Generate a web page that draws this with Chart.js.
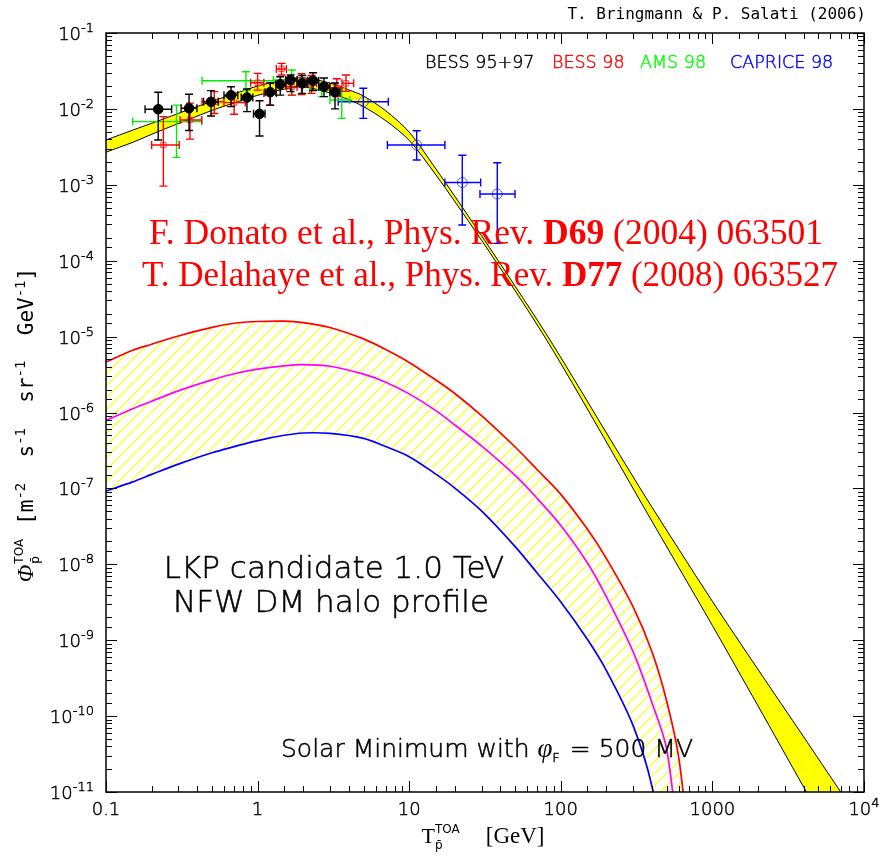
<!DOCTYPE html>
<html>
<head>
<meta charset="utf-8">
<title>Antiproton flux - LKP 1.0 TeV</title>
<script src="https://cdn.jsdelivr.net/npm/chart.js@4.4.1/dist/chart.umd.min.js"></script>
<style>
  html, body { margin: 0; padding: 0; background: #fff; }
  #wrap { width: 881px; height: 857px; }
</style>
</head>
<body>
<div id="wrap"><canvas id="fluxChart" width="881" height="857"></canvas></div>
<script>
// Secondary background band (kinetic energy in GeV, flux in m^-2 s^-1 sr^-1 GeV^-1)
const bandEnergy = [0.1, 0.15, 0.22, 0.35, 0.5, 0.7, 1, 1.5, 2, 3, 4, 5, 7, 10, 15, 20, 30, 50, 80, 120, 200, 350, 600, 1000, 2000, 4000, 7000, 10000];
const bandUpper = [3.89e-3, 5.25e-3, 6.92e-3, 9.77e-3, 1.26e-2, 1.58e-2, 2.00e-2, 2.40e-2, 2.57e-2, 2.19e-2, 1.78e-2, 1.48e-2, 9.44e-3, 4.95e-3, 1.62e-3, 7.06e-4, 2.14e-4, 4.61e-5, 1.09e-5, 2.92e-6, 5.38e-7, 8.61e-8, 1.58e-8, 3.25e-9, 4.11e-10, 5.32e-11, 1.01e-11, 3.56e-12];
const bandLower = [2.69e-3, 3.63e-3, 5.01e-3, 7.24e-3, 9.55e-3, 1.20e-2, 1.51e-2, 1.82e-2, 1.95e-2, 1.62e-2, 1.32e-2, 1.07e-2, 7.00e-3, 3.85e-3, 1.35e-3, 6.01e-4, 1.86e-4, 4.02e-5, 9.27e-6, 2.38e-6, 4.08e-7, 5.82e-8, 9.08e-9, 1.56e-9, 1.36e-10, 1.16e-11, 1.61e-12, 4.49e-13];

// LKP signal curves (max / median / min propagation)
const lkpEnergy = [0.1, 0.15, 0.2, 0.3, 0.5, 0.7, 1, 1.5, 2, 3, 5, 7, 10, 15, 20, 30, 50, 70, 100, 150, 200, 300, 400, 500, 600, 700];
const lkpMax = [4.62e-6, 6.61e-6, 7.94e-6, 1.02e-5, 1.32e-5, 1.50e-5, 1.58e-5, 1.60e-5, 1.53e-5, 1.32e-5, 9.33e-6, 6.76e-6, 4.57e-6, 2.68e-6, 1.78e-6, 9.10e-7, 3.51e-7, 1.76e-7, 8.35e-8, 2.89e-8, 1.19e-8, 2.75e-9, 6.98e-10, 1.56e-10, 2.84e-11, 1.9e-12];
const lkpMed = [7.85e-7, 1.12e-6, 1.41e-6, 1.93e-6, 2.69e-6, 3.24e-6, 3.72e-6, 4.12e-6, 4.27e-6, 4.07e-6, 3.20e-6, 2.51e-6, 1.76e-6, 1.06e-6, 6.84e-7, 3.63e-7, 1.48e-7, 7.35e-8, 3.25e-8, 1.04e-8, 3.71e-9, 7.0e-10, 1.49e-10, 3.63e-11, 1.8e-12, 1e-13];
const lkpMin = [9.23e-8, 1.22e-7, 1.53e-7, 2.09e-7, 2.95e-7, 3.55e-7, 4.27e-7, 5.01e-7, 5.37e-7, 5.30e-7, 4.57e-7, 3.56e-7, 2.62e-7, 1.54e-7, 1.01e-7, 5.05e-8, 1.71e-8, 7.64e-9, 3.18e-9, 1.02e-9, 3.98e-10, 7.48e-11, 1.17e-11, 8.5e-13, 1e-14, 1e-16];

// BESS 95+97
const bessE = [0.221, 0.353, 0.493, 0.668, 0.851, 1.03, 1.21, 1.41, 1.65, 1.97, 2.32, 2.74, 3.24];
const bessFlux = [9.9e-3, 1.02e-2, 1.24e-2, 1.51e-2, 1.41e-2, 8.6e-3, 1.66e-2, 2.11e-2, 2.40e-2, 2.17e-2, 2.35e-2, 1.96e-2, 1.66e-2];
const bessLo = [3.9e-3, 5.2e-3, 8.05e-3, 1.07e-2, 9.2e-3, 4.4e-3, 1.12e-2, 1.52e-2, 1.69e-2, 1.6e-2, 1.75e-2, 1.45e-2, 1.0e-2];
const bessHi = [1.66e-2, 1.56e-2, 1.74e-2, 1.96e-2, 1.83e-2, 1.28e-2, 2.19e-2, 2.65e-2, 2.8e-2, 2.75e-2, 3.0e-2, 2.55e-2, 2.19e-2];
const bessEmin = [0.181, 0.313, 0.44, 0.6, 0.78, 0.94, 1.12, 1.32, 1.53, 1.82, 2.14, 2.53, 3.0];
const bessEmax = [0.271, 0.398, 0.55, 0.74, 0.93, 1.12, 1.32, 1.53, 1.82, 2.14, 2.53, 3.0, 3.5];

// BESS 98
const bess98E = [0.239, 0.358, 0.518, 0.70, 1.0, 1.21, 1.44, 1.68, 1.95, 2.27, 3.33, 3.83];
const bess98Flux = [3.34e-3, 7.15e-3, 1.24e-2, 1.21e-2, 2.21e-2, 1.61e-2, 3.36e-2, 1.96e-2, 2.24e-2, 2.17e-2, 1.90e-2, 2.17e-2];
const bess98Lo = [9.6e-4, 4.0e-3, 8.7e-3, 8.5e-3, 1.77e-2, 1.12e-2, 2.8e-2, 1.52e-2, 1.55e-2, 1.6e-2, 1.45e-2, 1.7e-2];
const bess98Hi = [7.9e-3, 1.19e-2, 1.69e-2, 1.61e-2, 2.94e-2, 2.17e-2, 3.98e-2, 2.55e-2, 2.9e-2, 2.75e-2, 2.5e-2, 2.8e-2];
const bess98Emin = [0.2, 0.308, 0.43, 0.6, 0.9, 1.1, 1.33, 1.55, 1.82, 2.1, 3.0, 3.6];
const bess98Emax = [0.304, 0.428, 0.6, 0.83, 1.1, 1.33, 1.55, 1.82, 2.1, 2.45, 3.6, 4.3];

// AMS 98
const amsE = [0.292, 0.838, 1.68, 2.65, 3.59];
const amsFlux = [6.8e-3, 2.35e-2, 2.4e-2, 1.77e-2, 1.31e-2];
const amsLo = [2.3e-3, 1.75e-2, 1.52e-2, 1.45e-2, 7.5e-3];
const amsHi = [1.12e-2, 3.09e-2, 3.26e-2, 2.17e-2, 1.87e-2];
const amsEmin = [0.15, 0.43, 1.27, 2.2, 3.0];
const amsEmax = [0.428, 1.27, 2.22, 3.2, 4.06];

// CAPRICE 98
const capriceE = [4.98, 11.2, 22.4, 38.1];
const capriceFlux = [1.24e-2, 3.34e-3, 1.07e-3, 7.57e-4];
const capriceLo = [7.5e-3, 2.12e-3, 2.95e-4, 1.69e-4];
const capriceHi = [1.87e-2, 5.16e-3, 2.45e-3, 1.95e-3];
const capriceEmin = [3.4, 7.18, 17.2, 29.3];
const capriceEmax = [7.28, 17.2, 29.6, 49.9];

// Axis labels
const xTickValues = [0.1, 1, 10, 100, 1000, 10000];
const xTickLabels = ['0.1', '1', '10', '100', '1000', '10^4'];
const yTickValues = [1e-11, 1e-10, 1e-9, 1e-8, 1e-7, 1e-6, 1e-5, 1e-4, 1e-3, 1e-2, 1e-1];
const yTickLabels = ['10^-11', '10^-10', '10^-9', '10^-8', '10^-7', '10^-6', '10^-5', '10^-4', '10^-3', '10^-2', '10^-1'];

// thin face of DejaVu Sans, thickened a little with an outline
const SANS = '"DejaVu Sans", sans-serif';
const LIGHT = '200 ';
const MONO = '"DejaVu Sans Mono", monospace';
const SERIF = '"Liberation Serif", "DejaVu Serif", serif';
const MAJOR_TICK = 11, MINOR_TICK = 6;

function pts(xs, ys) {
    return xs.map((x, i) => ({ x: x, y: ys[i] }));
}

function isDecade(v) {
    const l = Math.log10(v);
    return Math.abs(l - Math.round(l)) < 1e-6;
}

// diagonal yellow hatching between the LKP curves
function makeHatch(ctx) {
    const s = 12;
    const c = document.createElement('canvas');
    c.width = s; c.height = s;
    const g = c.getContext('2d');
    g.strokeStyle = '#ffff00';
    g.lineWidth = 1.1;
    g.beginPath();
    g.moveTo(0, s); g.lineTo(s, 0);
    g.moveTo(-2, 2); g.lineTo(2, -2);
    g.moveTo(s - 2, s + 2); g.lineTo(s + 2, s - 2);
    g.stroke();
    return ctx.createPattern(c, 'repeat');
}

// text made of runs: plain pieces, raised/lowered pieces, stacked sup/sub pairs
function measureRuns(ctx, runs) {
    let w = 0;
    runs.forEach(r => {
        ctx.font = r.font;
        if (r.sup !== undefined) {
            r.w = Math.max(ctx.measureText(r.sup).width, ctx.measureText(r.sub).width);
        } else {
            r.w = ctx.measureText(r.t).width;
        }
        w += r.w + (r.gap || 0);
    });
    return w;
}

function drawRuns(ctx, runs, x, y, align, color) {
    const w = measureRuns(ctx, runs);
    let cx = align === 'right' ? x - w : align === 'center' ? x - w / 2 : x;
    ctx.textAlign = 'left';
    ctx.textBaseline = 'alphabetic';
    ctx.lineJoin = 'round';
    runs.forEach(r => {
        ctx.font = r.font;
        ctx.fillStyle = ctx.strokeStyle = r.color || color || '#000';
        ctx.lineWidth = r.stroke || 0;
        const put = (t, dy) => {
            ctx.fillText(t, cx, y + dy);
            if (r.stroke) ctx.strokeText(t, cx, y + dy);
        };
        if (r.sup !== undefined) {
            put(r.sup, r.supDy);
            put(r.sub, r.subDy);
        } else {
            put(r.t, r.dy || 0);
        }
        cx += r.w + (r.gap || 0);
    });
}

function light(t, size, extra) {
    return Object.assign({ t: t, font: LIGHT + size + 'px ' + SANS, stroke: size > 20 ? 0.5 : 0.45 }, extra || {});
}

function powerRuns(label, size) {
    const parts = label.split('^');
    const runs = [light(parts[0], size)];
    if (parts[1]) runs.push(light(parts[1], Math.round(size * 0.72), { dy: -8 }));
    return runs;
}

const axesAndText = {
    id: 'axesAndText',
    afterDraw(chart) {
        const { ctx, chartArea: a, scales: { x, y } } = chart;
        ctx.save();

        // frame and inward ticks on all four sides
        ctx.strokeStyle = '#000';
        ctx.lineWidth = 1.5;
        ctx.strokeRect(a.left, a.top, a.right - a.left, a.bottom - a.top);
        ctx.lineWidth = 1;
        ctx.beginPath();
        x.ticks.forEach(t => {
            const px = Math.round(x.getPixelForValue(t.value)) + 0.5;
            const len = isDecade(t.value) ? MAJOR_TICK : MINOR_TICK;
            ctx.moveTo(px, a.bottom); ctx.lineTo(px, a.bottom - len);
            ctx.moveTo(px, a.top); ctx.lineTo(px, a.top + len);
        });
        y.ticks.forEach(t => {
            const py = Math.round(y.getPixelForValue(t.value)) + 0.5;
            const len = isDecade(t.value) ? MAJOR_TICK : MINOR_TICK;
            ctx.moveTo(a.left, py); ctx.lineTo(a.left + len, py);
            ctx.moveTo(a.right, py); ctx.lineTo(a.right - len, py);
        });
        ctx.stroke();

        // tick labels
        xTickValues.forEach((v, i) => {
            drawRuns(ctx, powerRuns(xTickLabels[i], 18), x.getPixelForValue(v), a.bottom + 23, 'center');
        });
        yTickValues.forEach((v, i) => {
            drawRuns(ctx, powerRuns(yTickLabels[i], 18), a.left - 12, y.getPixelForValue(v) + 7, 'right');
        });

        // axis titles
        drawRuns(ctx, [
            { t: 'T', font: '22px ' + SERIF },
            { sup: 'TOA', sub: 'p\u0304', font: '12px ' + SANS, supDy: -10, subDy: 6, gap: 26 },
            { t: '[GeV]', font: '23px ' + SERIF }
        ], 483, 843, 'center');

        ctx.save();
        ctx.translate(26, 425);
        ctx.rotate(-Math.PI / 2);
        drawRuns(ctx, [
            { t: '\u03A6', font: 'italic 23px ' + SERIF, gap: 1 },
            { sup: 'TOA', sub: 'p\u0304', font: '12px ' + SANS, supDy: -10, subDy: 6, gap: 14 },
            { t: '[m', font: '21px ' + MONO },
            { t: '-2', font: '14px ' + MONO, dy: -8 },
            { t: '  s', font: '21px ' + MONO },
            { t: '-1', font: '14px ' + MONO, dy: -8 },
            { t: '  sr', font: '21px ' + MONO },
            { t: '-1', font: '14px ' + MONO, dy: -8 },
            { t: '  GeV', font: '21px ' + MONO },
            { t: '-1', font: '14px ' + MONO, dy: -8 },
            { t: ']', font: '21px ' + MONO }
        ], 0, 7, 'center');
        ctx.restore();

        // credits and experiment legend
        drawRuns(ctx, [{ t: 'T. Bringmann & P. Salati (2006)', font: '16px ' + MONO }], 866, 19, 'right');
        drawRuns(ctx, [light('BESS 95+97', 17.5)], 425, 68, 'left', '#000');
        drawRuns(ctx, [light('BESS 98', 17.5)], 552, 68, 'left', '#ff0000');
        drawRuns(ctx, [light('AMS 98', 17.5)], 640, 68, 'left', '#00ff00');
        drawRuns(ctx, [light('CAPRICE 98', 17.5)], 730, 68, 'left', '#0000ff');

        // references for the background band
        drawRuns(ctx, [
            { t: 'F. Donato et al., Phys. Rev. ', font: '35.5px ' + SERIF },
            { t: 'D69', font: 'bold 35.5px ' + SERIF },
            { t: ' (2004) 063501', font: '35.5px ' + SERIF }
        ], 486, 244, 'center', '#ff0000');
        drawRuns(ctx, [
            { t: 'T. Delahaye et al., Phys. Rev. ', font: '35px ' + SERIF },
            { t: 'D77', font: 'bold 35px ' + SERIF },
            { t: ' (2008) 063527', font: '35px ' + SERIF }
        ], 490, 286, 'center', '#ff0000');

        // model annotations
        drawRuns(ctx, [light('LKP candidate 1.0 TeV', 31)], 334, 578, 'center');
        drawRuns(ctx, [light('NFW DM halo profile', 31)], 331, 612, 'center');
        drawRuns(ctx, [
            light('Solar Minimum with ', 25),
            { t: '\u03C6', font: 'italic 27px ' + SERIF },
            light('F', 13, { dy: 5, gap: 2 }),
            light(' = 500 MV', 25)
        ], 487, 757, 'center');

        ctx.restore();
    }
};

// error bars with end caps, drawn right after each data set
const errorBars = {
    id: 'errorBars',
    afterDatasetDraw(chart, args) {
        const ds = chart.data.datasets[args.index];
        if (!ds.err) return;
        const { ctx, chartArea: a, scales: { x, y } } = chart;
        const e = ds.err, cap = 4;
        ctx.save();
        ctx.beginPath();
        ctx.rect(a.left, a.top, a.right - a.left, a.bottom - a.top);
        ctx.clip();
        ctx.strokeStyle = ds.barColor;
        ctx.lineWidth = 1.4;
        ctx.beginPath();
        ds.data.forEach((p, i) => {
            const px = x.getPixelForValue(p.x), py = y.getPixelForValue(p.y);
            const y0 = y.getPixelForValue(e.lo[i]), y1 = y.getPixelForValue(e.hi[i]);
            const x0 = x.getPixelForValue(e.xmin[i]), x1 = x.getPixelForValue(e.xmax[i]);
            ctx.moveTo(px, y0); ctx.lineTo(px, y1);
            ctx.moveTo(px - cap, y0); ctx.lineTo(px + cap, y0);
            ctx.moveTo(px - cap, y1); ctx.lineTo(px + cap, y1);
            ctx.moveTo(x0, py); ctx.lineTo(x1, py);
            ctx.moveTo(x0, py - cap); ctx.lineTo(x0, py + cap);
            ctx.moveTo(x1, py - cap); ctx.lineTo(x1, py + cap);
        });
        ctx.stroke();
        ctx.restore();
    }
};

const canvas = document.getElementById('fluxChart');
const ctx = canvas.getContext('2d');

const curve = {
    showLine: true, pointRadius: 0,
    tension: 0.3, capBezierPoints: false
};

new Chart(ctx, {
    type: 'scatter',
    data: {
        datasets: [
            {
                label: 'BESS 95+97',
                data: pts(bessE, bessFlux),
                err: { lo: bessLo, hi: bessHi, xmin: bessEmin, xmax: bessEmax },
                barColor: '#000',
                pointStyle: 'circle', pointRadius: 4.8,
                backgroundColor: '#000', borderColor: '#000', borderWidth: 1
            },
            {
                label: 'BESS 98',
                data: pts(bess98E, bess98Flux),
                err: { lo: bess98Lo, hi: bess98Hi, xmin: bess98Emin, xmax: bess98Emax },
                barColor: '#ff0000',
                pointStyle: 'rect', pointRadius: 3.8,
                backgroundColor: 'rgba(0,0,0,0)', borderColor: '#ff4040', borderWidth: 1
            },
            {
                label: 'AMS 98',
                data: pts(amsE, amsFlux),
                err: { lo: amsLo, hi: amsHi, xmin: amsEmin, xmax: amsEmax },
                barColor: '#00ee00',
                pointRadius: 0
            },
            {
                label: 'CAPRICE 98',
                data: pts(capriceE, capriceFlux),
                err: { lo: capriceLo, hi: capriceHi, xmin: capriceEmin, xmax: capriceEmax },
                barColor: '#0000ff',
                pointStyle: 'circle', pointRadius: 5,
                backgroundColor: 'rgba(0,0,0,0)', borderColor: '#5a5aff', borderWidth: 1
            },
            Object.assign({
                label: 'background upper',
                data: pts(bandEnergy, bandUpper),
                borderColor: '#000', borderWidth: 1,
                fill: '+1', backgroundColor: '#ffff00'
            }, curve),
            Object.assign({
                label: 'background lower',
                data: pts(bandEnergy, bandLower),
                borderColor: '#000', borderWidth: 1,
                fill: false
            }, curve),
            Object.assign({
                label: 'LKP max',
                data: pts(lkpEnergy, lkpMax),
                borderColor: '#ff0000', borderWidth: 1.7,
                fill: '+2', backgroundColor: makeHatch(ctx)
            }, curve),
            Object.assign({
                label: 'LKP med',
                data: pts(lkpEnergy, lkpMed),
                borderColor: '#ff00ff', borderWidth: 1.7,
                fill: false
            }, curve),
            Object.assign({
                label: 'LKP min',
                data: pts(lkpEnergy, lkpMin),
                borderColor: '#0000ff', borderWidth: 1.7,
                fill: false
            }, curve)
        ]
    },
    options: {
        responsive: false,
        devicePixelRatio: 1,
        animation: false,
        layout: { padding: { left: 106, right: 17, top: 33, bottom: 65 } },
        plugins: {
            legend: { display: false },
            tooltip: { enabled: false },
            filler: { drawTime: 'beforeDatasetsDraw' }
        },
        scales: {
            x: {
                type: 'logarithmic', min: 0.1, max: 10000,
                ticks: { display: false },
                grid: { display: false },
                border: { display: false },
                afterFit: s => { s.height = 0; }
            },
            y: {
                type: 'logarithmic', min: 1e-11, max: 0.1,
                ticks: { display: false },
                grid: { display: false },
                border: { display: false },
                afterFit: s => { s.width = 0; }
            }
        }
    },
    plugins: [errorBars, axesAndText]
});
</script>
</body>
</html>
